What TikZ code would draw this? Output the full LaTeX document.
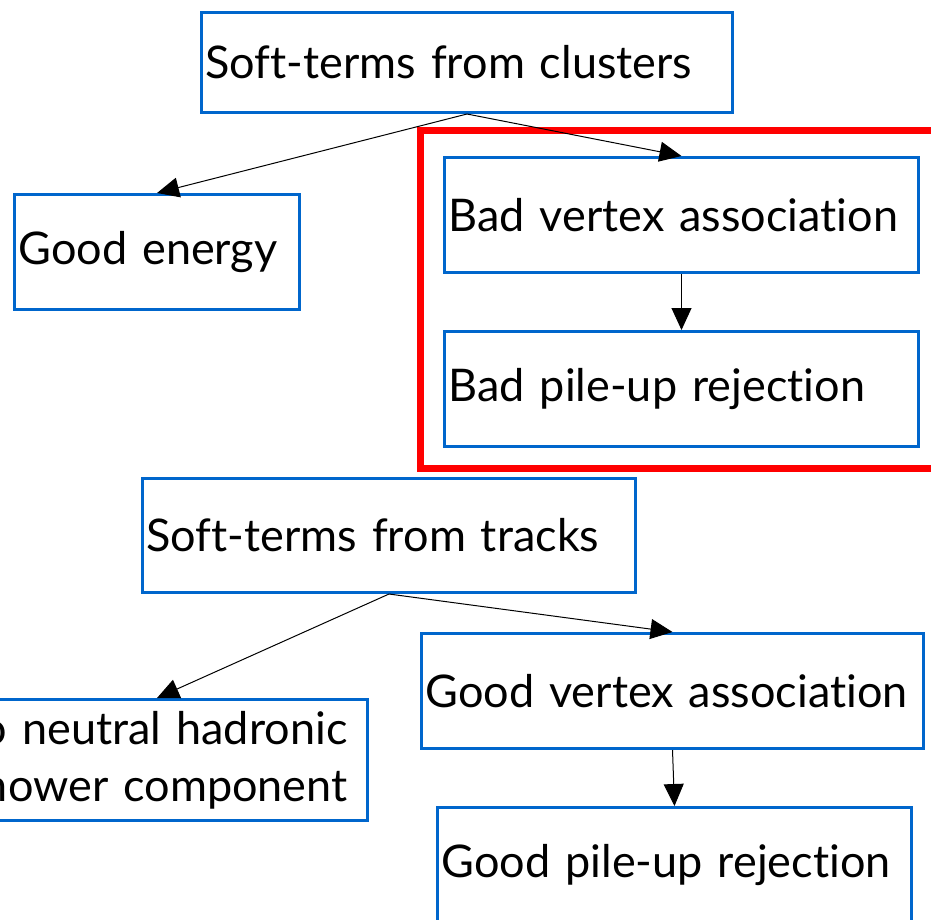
\documentclass[tikz,border=0pt]{standalone}
\usepackage{fontspec}
\setmainfont{Lato}[Ligatures={NoCommon}]
\usetikzlibrary{arrows.meta,calc}
\definecolor{boxblue}{HTML}{0066CC}
\tikzset{
  bx/.style={draw=boxblue, line width=3pt, rectangle, anchor=north west, inner xsep=4pt, inner ysep=0pt, font=\fontsize{45}{57}\selectfont, align=left},
  arr/.style={draw=black, line width=1pt, -{Triangle[length=22pt,width=20pt]}},
}
\begin{document}
\begin{tikzpicture}[x=1pt,y=-1pt]
\useasboundingbox (0,0) rectangle (931,919);
\node[bx, minimum width=531pt, minimum height=100pt, text width=523pt] (clu) at (200,11) {\mbox{Soft-terms from clusters}};
\node[bx, minimum width=285pt, minimum height=115pt, text width=277pt] (ge) at (13,193) {\mbox{Good energy}};
\draw[red, line width=7pt] (420,130) rectangle (950,468);
\node[bx, minimum width=474pt, minimum height=115pt, text width=466pt] (bva) at (443,156) {\mbox{Bad vertex association}};
\node[bx, minimum width=474pt, minimum height=115pt, text width=466pt] (bpr) at (443,330) {\mbox{Bad pile-up rejection}};
\node[bx, minimum width=493pt, minimum height=114pt, text width=485pt] (trk) at (141,477) {\mbox{Soft-terms from tracks}};
\node[bx, minimum width=460pt, minimum height=121pt, text width=420pt, inner xsep=20pt, align=right] (had) at (-94,698) {\mbox{No neutral hadronic}\\\mbox{shower component}};
\node[bx, minimum width=502pt, minimum height=115pt, text width=494pt] (gva) at (420,632) {\mbox{Good vertex association}};
\node[bx, minimum width=474pt, minimum height=115pt, text width=466pt] (gpr) at (436,806) {\mbox{Good pile-up rejection}};
\draw[arr] (clu.south) -- (ge.north);
\draw[arr] (clu.south) -- (bva.north);
\draw[arr] (bva.south) -- (bpr.north);
\draw[arr] (trk.south) -- (had.north -| ge.north);
\draw[arr] (trk.south) -- (gva.north);
\draw[arr] (gva.south) -- (gpr.north);
\end{tikzpicture}
\end{document}
